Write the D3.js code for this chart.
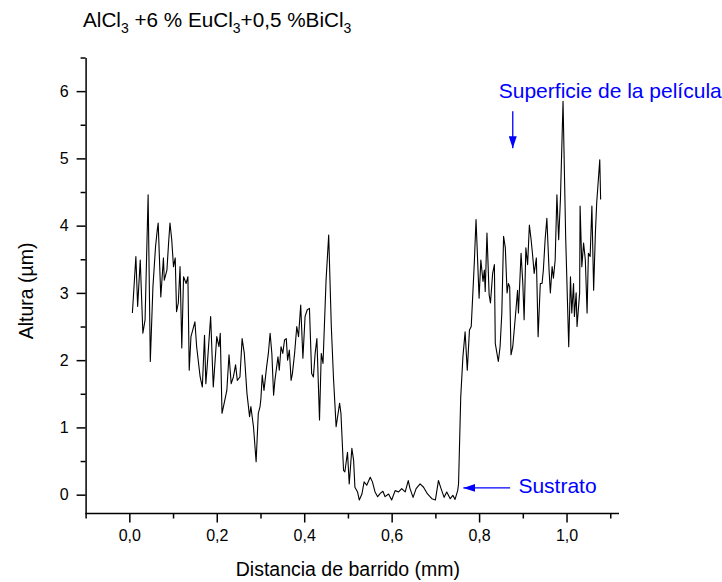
<!DOCTYPE html>
<html>
<head>
<meta charset="utf-8">
<script src="https://cdn.jsdelivr.net/npm/d3@7"></script>
<style>
  body { margin: 0; background: #fff; }
  text { font-family: Arial, "Liberation Sans", sans-serif; }
</style>
</head>
<body>
<svg id="chart"></svg>
<script>
/// DATA ///
const distancia = [
  0.007, 0.015, 0.019, 0.025, 0.031, 0.036, 0.043, 0.048, 0.054, 0.060,
  0.064, 0.066, 0.072, 0.078, 0.080, 0.086, 0.090, 0.093, 0.097, 0.101,
  0.105, 0.108, 0.112, 0.116, 0.120, 0.124, 0.130, 0.134, 0.137, 0.141,
  0.150, 0.154, 0.162, 0.167, 0.172, 0.175, 0.178, 0.186, 0.192, 0.200,
  0.205, 0.208, 0.212, 0.217, 0.223, 0.228, 0.233, 0.238, 0.243, 0.247,
  0.253, 0.258, 0.263, 0.269, 0.275, 0.278, 0.284, 0.290, 0.295, 0.299,
  0.301, 0.304, 0.308, 0.314, 0.318, 0.322, 0.326, 0.330, 0.333, 0.340,
  0.343, 0.347, 0.351, 0.355, 0.359, 0.362, 0.366, 0.370, 0.373, 0.378,
  0.383, 0.387, 0.392, 0.397, 0.402, 0.407, 0.412, 0.417, 0.421, 0.425,
  0.429, 0.435, 0.439, 0.443, 0.450, 0.456, 0.462, 0.467, 0.473, 0.481,
  0.484, 0.490, 0.493, 0.499, 0.503, 0.509, 0.513, 0.516, 0.522, 0.526,
  0.532, 0.537, 0.543, 0.551, 0.556, 0.562, 0.568, 0.574, 0.580, 0.585,
  0.593, 0.600, 0.608, 0.616, 0.623, 0.631, 0.638, 0.642, 0.649, 0.656,
  0.665, 0.673, 0.682, 0.692, 0.700, 0.707, 0.713, 0.720, 0.726, 0.734,
  0.740, 0.745, 0.751, 0.753, 0.758, 0.763, 0.768, 0.773, 0.778, 0.782,
  0.785, 0.789, 0.793, 0.796, 0.800, 0.804, 0.809, 0.812, 0.814, 0.818,
  0.823, 0.826, 0.831, 0.835, 0.837, 0.844, 0.848, 0.852, 0.856, 0.860,
  0.864, 0.867, 0.870, 0.873, 0.877, 0.883, 0.888, 0.890, 0.896, 0.900,
  0.903, 0.907, 0.911, 0.915, 0.919, 0.922, 0.926, 0.931, 0.935, 0.940,
  0.944, 0.947, 0.951, 0.955, 0.960, 0.963, 0.967, 0.970, 0.974, 0.978,
  0.982, 0.986, 0.992, 0.998, 1.002, 1.005, 1.009, 1.012, 1.016, 1.018,
  1.022, 1.024, 1.030, 1.031, 1.035, 1.039, 1.043, 1.047, 1.050, 1.054,
  1.058, 1.062, 1.066, 1.069, 1.076, 1.078
];

const altura = [
  2.70, 3.54, 2.80, 3.49, 2.40, 2.60, 4.46, 1.98, 3.09, 3.69,
  3.94, 4.04, 2.94, 3.52, 3.19, 3.34, 3.76, 4.04, 3.79, 3.39,
  3.52, 2.72, 2.85, 3.39, 2.18, 3.24, 3.14, 3.24, 1.85, 2.35,
  2.57, 2.20, 1.75, 1.60, 2.37, 1.65, 1.90, 2.65, 1.60, 2.35,
  2.20, 2.40, 1.21, 1.36, 1.55, 2.08, 1.65, 1.75, 1.93, 1.70,
  1.75, 2.32, 2.10, 1.51, 1.16, 1.31, 1.01, 0.49, 1.21, 1.31,
  1.43, 1.78, 1.55, 1.90, 2.10, 2.40, 2.10, 1.48, 1.70, 2.05,
  1.85, 2.20, 2.10, 2.30, 2.32, 2.00, 2.15, 1.70, 1.80, 2.10,
  2.50, 2.35, 2.82, 2.03, 2.65, 2.75, 2.77, 1.80, 1.75, 2.10,
  2.32, 1.11, 2.10, 1.95, 3.19, 3.86, 2.50, 1.73, 1.01, 1.36,
  1.21, 0.36, 0.34, 0.63, 0.16, 0.69, 0.51, 0.11, 0.04, -0.08,
  0.01, 0.19, 0.14, 0.26, 0.19, 0.04, -0.03, 0.02, 0.05, -0.03,
  0.01, -0.08, 0.06, 0.04, 0.09, 0.04, 0.21, 0.09, -0.04, 0.09,
  0.16, 0.11, 0.01, -0.06, -0.08, 0.21, 0.09, -0.04, 0.04, -0.06,
  -0.01, -0.07, 0.06, 0.16, 1.45, 2.05, 2.42, 1.85, 2.45, 2.50,
  2.90, 3.44, 4.09, 3.59, 2.92, 3.49, 3.17, 3.34, 3.02, 3.89,
  2.97, 2.85, 3.29, 3.42, 2.25, 1.98, 2.20, 2.70, 3.84, 3.67,
  3.00, 3.14, 3.09, 2.08, 2.20, 2.65, 3.04, 2.70, 3.59, 3.14,
  2.60, 3.67, 3.42, 4.01, 3.79, 3.59, 3.29, 3.52, 2.35, 3.14,
  3.14, 3.34, 3.79, 4.11, 3.34, 3.00, 3.39, 3.22, 3.49, 4.46,
  3.79, 4.39, 5.85, 3.84, 2.90, 2.20, 3.24, 2.70, 3.14, 2.65,
  3.00, 2.50, 3.00, 4.29, 3.39, 3.74, 3.49, 2.70, 3.59, 3.54,
  4.29, 3.04, 3.89, 4.34, 4.98, 4.39
];

const xMajor = [0, 0.2, 0.4, 0.6, 0.8, 1.0];
const xMinor = [-0.1, 0.1, 0.3, 0.5, 0.7, 0.9, 1.1];
const yMajor = [0, 1, 2, 3, 4, 5, 6];
const yMinor = [0.5, 1.5, 2.5, 3.5, 4.5, 5.5, 6.5];

/// LAYOUT ///
const margin = { top: 57.5, right: 103, bottom: 68.5, left: 85.6 };
const width = 722 - margin.left - margin.right;
const height = 582 - margin.top - margin.bottom;

const svgRoot = d3.select("#chart")
  .attr("width", 722)
  .attr("height", 582);

const svg = svgRoot.append("g")
  .attr("transform", `translate(${margin.left}, ${margin.top})`);

// SCALES
const x = d3.scaleLinear()
  .domain([-0.1, 1.12])
  .range([0, width]);

const y = d3.scaleLinear()
  .domain([-0.28, 6.5])
  .range([height, 0]);

const comma = d => d3.format(".1f")(d).replace(".", ",");

// AXES
const xAxis = svg.append("g")
  .attr("transform", `translate(0, ${height})`)
  .call(d3.axisBottom(x).tickValues(xMajor).tickSize(9).tickSizeOuter(0)
    .tickPadding(7.5).tickFormat(comma));

svg.append("g")
  .attr("transform", `translate(0, ${height})`)
  .call(d3.axisBottom(x).tickValues(xMinor).tickSize(5).tickSizeOuter(0).tickFormat(""))
  .select(".domain").remove();

const yAxis = svg.append("g")
  .call(d3.axisLeft(y).tickValues(yMajor).tickSize(9).tickSizeOuter(0)
    .tickPadding(8).tickFormat(d3.format("d")));

svg.append("g")
  .call(d3.axisLeft(y).tickValues(yMinor).tickSize(5).tickSizeOuter(0).tickFormat(""))
  .select(".domain").remove();

svg.selectAll(".domain, .tick line")
  .attr("stroke", "#000")
  .attr("stroke-width", 1.5);

svg.selectAll(".tick text")
  .attr("fill", "#000")
  .style("font-size", "16px")
  .style("font-family", "Arial, 'Liberation Sans', sans-serif");

// extend the x axis line to the left axis corner
xAxis.select(".domain").attr("d", `M0,0H${width}`);

// AXIS TITLES
svg.append("text")
  .attr("x", x(0.5))
  .attr("y", height + 62)
  .attr("text-anchor", "middle")
  .style("font-size", "19.5px")
  .text("Distancia de barrido (mm)");

svg.append("text")
  .attr("transform", `translate(${-53}, ${y(3.03)}) rotate(-90)`)
  .attr("text-anchor", "middle")
  .style("font-size", "19.5px")
  .text("Altura (\u00b5m)");

// TITLE
const title = svgRoot.append("text")
  .attr("x", 83)
  .attr("y", 27.3)
  .style("font-size", "20.7px");

const titleParts = [
  ["AlCl", false], ["3", true], [" +6 % EuCl", false], ["3", true],
  ["+0,5 %BiCl", false], ["3", true]
];
titleParts.forEach(([t, sub]) => {
  title.append("tspan")
    .attr("dy", sub ? 6 : -6)
    .style("font-size", sub ? "14px" : "20.7px")
    .text(t);
});
title.select("tspan").attr("dy", 0);

// LINE
const line = d3.line()
  .x((d, i) => x(distancia[i]))
  .y(d => y(d));

svg.append("path")
  .datum(altura)
  .attr("fill", "none")
  .attr("stroke", "#000")
  .attr("stroke-width", 1.1)
  .attr("stroke-linejoin", "round")
  .attr("d", line);

// ANNOTATIONS
const blue = "#0000ff";

svgRoot.append("defs").append("marker")
  .attr("id", "head")
  .attr("viewBox", "0 0 12 8")
  .attr("refX", 12)
  .attr("refY", 4)
  .attr("markerWidth", 12)
  .attr("markerHeight", 8)
  .attr("markerUnits", "userSpaceOnUse")
  .attr("orient", "auto")
  .append("path")
  .attr("d", "M0,0L12,4L0,8Z")
  .attr("fill", blue);

svg.append("text")
  .attr("x", x(0.845))
  .attr("y", y(5.9))
  .attr("fill", blue)
  .style("font-size", "21px")
  .text("Superficie de la película");

svg.append("line")
  .attr("x1", x(0.877)).attr("y1", y(5.7))
  .attr("x2", x(0.877)).attr("y2", y(5.15))
  .attr("stroke", blue)
  .attr("stroke-width", 1.3)
  .attr("marker-end", "url(#head)");

svg.append("text")
  .attr("x", x(0.89))
  .attr("y", y(0.02))
  .attr("fill", blue)
  .style("font-size", "21px")
  .text("Sustrato");

svg.append("line")
  .attr("x1", x(0.871)).attr("y1", y(0.1))
  .attr("x2", x(0.764)).attr("y2", y(0.1))
  .attr("stroke", blue)
  .attr("stroke-width", 1.3)
  .attr("marker-end", "url(#head)");
</script>
</body>
</html>
